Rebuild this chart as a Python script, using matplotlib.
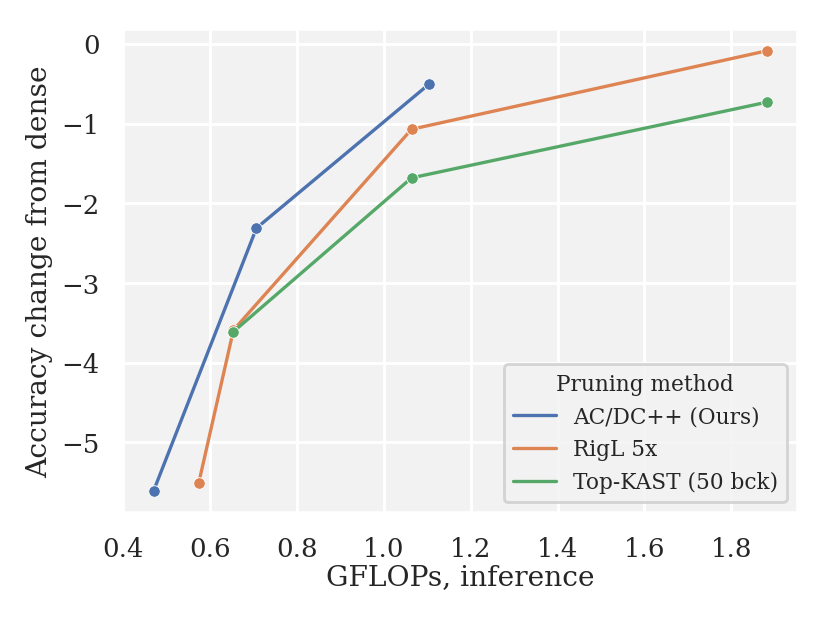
import matplotlib
matplotlib.use("Agg")
import matplotlib.pyplot as plt
import seaborn as sns

sns.set_theme(style="darkgrid")
plt.rcParams['font.family'] = ['DejaVu Serif']
plt.rcParams['axes.facecolor'] = '#f2f2f2'

acdc_x = [0.47, 0.707, 1.105]
acdc_y = [-5.61, -2.31, -0.50]
rigl_x = [0.574, 0.654, 1.064, 1.882]
rigl_y = [-5.51, -3.59, -1.07, -0.085]
topk_x = [0.654, 1.064, 1.882]
topk_y = [-3.61, -1.68, -0.73]
labels = ["AC/DC++ (Ours)", "RigL 5x", "Top-KAST (50 bck)"]

colors = sns.color_palette("deep")

fig = plt.figure(figsize=(4, 3), dpi=207.5)
ax = fig.add_axes([0.148, 0.175, 0.813, 0.778])
for xs, ys, lab, c in zip([acdc_x, rigl_x, topk_x], [acdc_y, rigl_y, topk_y], labels, colors):
    ax.plot(xs, ys, color=c, lw=1.15, label=lab)
    ax.plot(xs, ys, 'o', color=c, ms=4.0, mec='white', mew=0.3)

ax.set_xticks([0.4, 0.6, 0.8, 1.0, 1.2, 1.4, 1.6, 1.8])
ax.set_yticks([0, -1, -2, -3, -4, -5])
ax.set_yticklabels(["0", "\u22121", "\u22122", "\u22123", "\u22124", "\u22125"])
ax.tick_params(labelsize=9, pad=2)
ax.set_xlabel("GFLOPs, inference", fontsize=9.75, labelpad=1)
ax.set_ylabel("Accuracy change from dense", fontsize=9.75, labelpad=3)
leg = ax.legend(title="Pruning method", loc="lower right", fontsize=7.5, title_fontsize=7.5)
fig.savefig("out.png", dpi=207.5)
